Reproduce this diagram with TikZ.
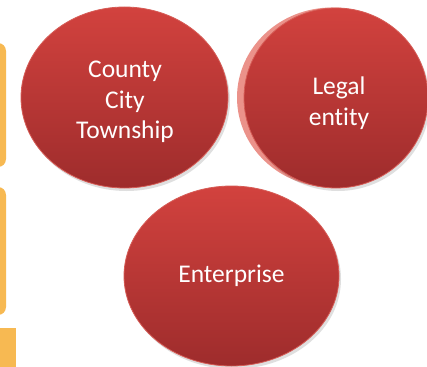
\documentclass[tikz,border=0pt]{standalone}
\usepackage{fontspec}
\setmainfont{Carlito}[RawFeature=-liga]
\usetikzlibrary{shapes.geometric,shadows}

\definecolor{redtop}{RGB}{210,66,62}
\definecolor{redbot}{RGB}{158,44,44}
\definecolor{redrim}{RGB}{214,92,86}
\definecolor{redbevel}{RGB}{232,128,118}
\definecolor{boxorange}{RGB}{247,185,82}

\tikzset{
  blob/.style={ellipse, draw=redrim, line width=0.8pt,
    top color=redtop, bottom color=redbot, inner sep=0pt,
    drop shadow={opacity=0.25, shadow xshift=2pt, shadow yshift=-3pt},
    text=white, align=center, font=\blobfont},
  blobtext/.style={text=white, align=center, font=\blobfont},
  tab/.style={fill=boxorange, rounded corners=8pt}
}
\newcommand{\blobfont}{\fontsize{25.5}{30.5}\selectfont}

\begin{document}
\begin{tikzpicture}[x=1pt,y=-1pt]
\useasboundingbox (0,0) rectangle (427,366);
\fill[white] (0,0) rectangle (427,366);

% orange tabs on the left edge
\fill[tab] (-40,43) rectangle (6,167);
\fill[tab] (-40,187) rectangle (6,315);
\fill[boxorange] (0,328) rectangle (16,380);

% ellipses
\node[blob, minimum width=207pt, minimum height=181pt] (county) at (124.5,97.5) {};
\node[blobtext] (countytxt) at (125,102) {County\\City\\Township};

\fill[redbevel, opacity=0.85] (332,97.5) ellipse (95 and 90);
\node[blob, minimum width=184pt, minimum height=180pt] (legal) at (336,98) {};
\node[blobtext] (legaltxt) at (339,103) {Legal\\entity};

\node[blob, minimum width=215pt, minimum height=180pt] (enterprise) at (231.5,276) {Enterprise};

\end{tikzpicture}
\end{document}
